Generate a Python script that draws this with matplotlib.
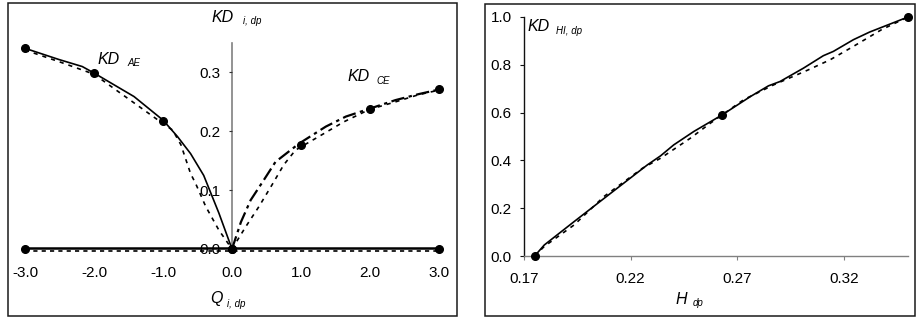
import matplotlib
matplotlib.use("Agg")
import matplotlib.pyplot as plt
from matplotlib.patches import Rectangle

plt.rcParams['font.family'] = ['Liberation Sans', 'DejaVu Sans']

# ---------------- data: left panel ----------------
q_ae_solid = [-3.0, -2.51, -2.17, -2.0, -1.42, -1.0, -0.79, -0.60, -0.41, -0.19, 0.0]
kd_ae_solid = [0.341, 0.322, 0.310, 0.299, 0.259, 0.219, 0.191, 0.162, 0.125, 0.061, 0.0]
q_ae_dash = [-3.0, -2.5, -2.0, -1.5, -1.0, -0.86, -0.74, -0.60, -0.53, -0.38, -0.19, 0.0]
kd_ae_dash = [0.338, 0.318, 0.297, 0.255, 0.213, 0.202, 0.177, 0.128, 0.112, 0.072, 0.032, 0.0]
q_ae_pts = [-3.0, -2.0, -1.0, 0.0]
kd_ae_pts = [0.341, 0.299, 0.218, 0.0]

q_ce_dashdot = [0.0, 0.13, 0.27, 0.46, 0.63, 0.97, 1.36, 1.65, 2.01, 2.37, 2.7, 3.0]
kd_ce_dashdot = [0.0, 0.046, 0.083, 0.117, 0.148, 0.179, 0.208, 0.225, 0.239, 0.253, 0.263, 0.271]
q_ce_dash = [0.0, 0.20, 0.39, 0.58, 0.75, 0.92, 1.33, 1.62, 1.99, 2.37, 2.7, 3.0]
kd_ce_dash = [0.0, 0.038, 0.072, 0.109, 0.143, 0.168, 0.196, 0.216, 0.237, 0.250, 0.262, 0.270]
q_ce_pts = [1.0, 2.0, 3.0]
kd_ce_pts = [0.177, 0.238, 0.271]

q_zero = [-3.0, 0.0, 3.0]
kd_zero_solid = [0.001, 0.001, 0.001]
kd_zero_dash = [-0.003, -0.003, -0.003]

q_ticks = [-3.0, -2.0, -1.0, 0.0, 1.0, 2.0, 3.0]
kd_ticks = [0.0, 0.1, 0.2, 0.3]

# ---------------- data: right panel ----------------
h_solid = [0.175, 0.1795, 0.1935, 0.2107, 0.2278, 0.234, 0.2402, 0.2496, 0.2628,
           0.2761, 0.2846, 0.290, 0.301, 0.3103, 0.315, 0.3244, 0.332, 0.350]
kd_hi_solid = [0.0, 0.046, 0.144, 0.263, 0.381, 0.419, 0.465, 0.521, 0.590,
               0.667, 0.712, 0.730, 0.786, 0.838, 0.856, 0.905, 0.937, 1.0]
h_dash = [0.175, 0.1795, 0.1935, 0.2075, 0.2255, 0.234, 0.248, 0.2574, 0.273,
          0.287, 0.3033, 0.3135, 0.3244, 0.3376, 0.350]
kd_hi_dash = [0.0, 0.040, 0.130, 0.249, 0.367, 0.409, 0.493, 0.556, 0.654,
              0.716, 0.779, 0.821, 0.877, 0.947, 1.0]
h_pts = [0.175, 0.263, 0.350]
kd_hi_pts = [0.0, 0.590, 1.0]

h_ticks = [0.17, 0.22, 0.27, 0.32]
kd_hi_ticks = [0.0, 0.2, 0.4, 0.6, 0.8, 1.0]

# ---------------- figure ----------------
W, H = 917, 320
fig = plt.figure(figsize=(W / 100, H / 100), dpi=100)


def px_ax(x0, y_top, x1, y_bot):
    return fig.add_axes([x0 / W, (H - y_bot) / H, (x1 - x0) / W, (y_bot - y_top) / H])


def ftext(x, y, s, size, **kw):
    fig.text(x / W, (H - y) / H, s, fontsize=size, style='italic', va='baseline', ha='left', **kw)


# frames
for (x0, y0, x1, y1) in [(8, 3, 457, 316), (485, 4, 915, 316)]:
    fig.patches.append(Rectangle((x0 / W, (H - y1) / H), (x1 - x0) / W, (y1 - y0) / H,
                                 transform=fig.transFigure, fill=False, edgecolor='#1a1a1a',
                                 linewidth=1.1))

# ---- left panel ----
ax1 = px_ax(25, 43, 439, 249)
ax1.set_xlim(-3.0, 3.0)
ax1.set_ylim(0.0, 0.35)
ax1.patch.set_visible(False)
for s in ['top', 'right', 'bottom']:
    ax1.spines[s].set_visible(False)
ax1.spines['left'].set_position(('data', 0.0))
ax1.spines['left'].set_color('#808080')
ax1.spines['left'].set_linewidth(1.2)
ax1.spines['left'].set_zorder(1)

ax1.set_xticks(q_ticks)
ax1.set_xticklabels([f"{v:.1f}" for v in q_ticks])
ax1.set_yticks(kd_ticks)
ax1.set_yticklabels([f"{v:.1f}" for v in kd_ticks])
ax1.tick_params(axis='x', length=0, pad=12.5, labelsize=11)
ax1.tick_params(axis='y', direction='out', length=2.5, width=0.8, pad=6, labelsize=11,
                color='#333333')

lk = dict(color='black', zorder=3, clip_on=False)
ax1.plot(q_ae_solid, kd_ae_solid, linestyle='-', linewidth=1.2, **lk)
ax1.plot(q_ae_dash, kd_ae_dash, linestyle=(0, (2.5, 3)), linewidth=1.2, **lk)
ax1.plot(q_ce_dashdot, kd_ce_dashdot, linestyle=(0, (6, 2, 1.5, 2)), linewidth=1.6, **lk)
ax1.plot(q_ce_dash, kd_ce_dash, linestyle=(0, (2.5, 3)), linewidth=1.2, **lk)
ax1.plot(q_zero, kd_zero_dash, linestyle=(0, (2.5, 2.5)), linewidth=1.2, **lk)
ax1.plot(q_zero, kd_zero_solid, linestyle='-', linewidth=1.8, **lk)
mk = dict(linestyle='none', marker='o', markersize=5.5, color='black', zorder=4, clip_on=False)
ax1.plot(q_ae_pts, kd_ae_pts, **mk)
ax1.plot(q_ce_pts, kd_ce_pts, **mk)
ax1.plot(q_zero, [0, 0, 0], **mk)

ftext(211, 21.5, 'KD', 11.5)
ftext(243, 24.5, 'i, dp', 7)
ftext(97, 63.5, 'KD', 11.5)
ftext(127, 66, 'AE', 7)
ftext(347, 81, 'KD', 11.5)
ftext(376, 83.5, 'CE', 7)
ftext(210, 303, 'Q', 11.5)
ftext(227, 307, 'i, dp', 7)

# ---- right panel ----
ax2 = px_ax(524, 17, 908, 256)
ax2.set_xlim(0.17, 0.35)
ax2.set_ylim(0.0, 1.0)
ax2.patch.set_visible(False)
for s in ['top', 'right']:
    ax2.spines[s].set_visible(False)
ax2.spines['left'].set_color('#111111')
ax2.spines['left'].set_linewidth(1.0)
ax2.spines['bottom'].set_color('#808080')
ax2.spines['bottom'].set_linewidth(1.0)
ax2.set_xticks(h_ticks)
ax2.set_xticklabels([f"{v:.2f}" for v in h_ticks])
ax2.set_yticks(kd_hi_ticks)
ax2.set_yticklabels([f"{v:.1f}" for v in kd_hi_ticks])
ax2.tick_params(axis='x', direction='out', length=3, width=0.8, pad=8.5, labelsize=11,
                color='#808080')
ax2.tick_params(axis='y', direction='out', length=3, width=0.8, pad=6, labelsize=11,
                color='#111111')

ax2.plot(h_dash, kd_hi_dash, linestyle=(0, (2.5, 3)), linewidth=1.2, **lk)
ax2.plot(h_solid, kd_hi_solid, linestyle='-', linewidth=1.2, **lk)
ax2.plot(h_pts, kd_hi_pts, **mk)

ftext(527, 31, 'KD', 11.5)
ftext(556, 33.5, 'HI, dp', 7)
ftext(675, 303.5, 'H', 11.5)
ftext(693, 306.5, 'dp', 7)

fig.savefig('out.png', dpi=100)
